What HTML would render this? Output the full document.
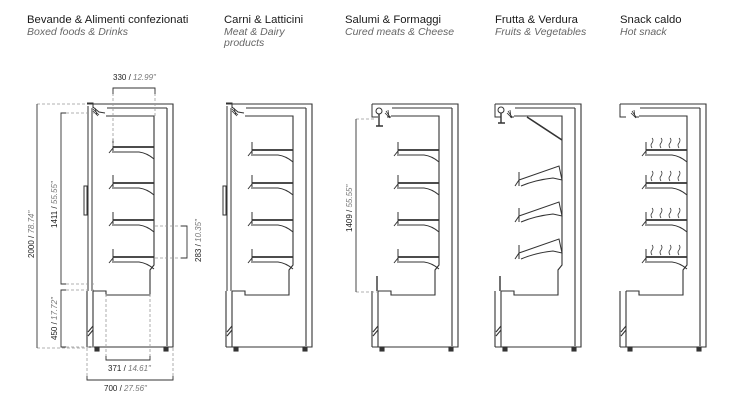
<!DOCTYPE html>
<html><head><meta charset="utf-8"><style>
html,body{margin:0;padding:0;background:#fff;}
svg{display:block}
.t{font-family:"Liberation Sans",sans-serif;font-size:11.3px;fill:#1a1a1a}
.s{font-family:"Liberation Sans",sans-serif;font-size:10.5px;fill:#666;font-style:italic}
.d{font-family:"Liberation Sans",sans-serif;font-size:8px;fill:#222}
.di{font-style:italic;fill:#777}
</style></head><body>
<svg width="737" height="415" viewBox="0 0 737 415" xmlns="http://www.w3.org/2000/svg">
<defs>
<g id="body" fill="none" stroke="#333" stroke-width="1.1">
  <path d="M0 0 H86 V243 H0"/>
  <path d="M80 4 V242"/>
  <path d="M20 4 H80"/>
  <path d="M6 187 H19 V191 H63 V166 L67 161 V12 H19"/>
  <path d="M6 187 V243 M0 187 V243"/>
  <path d="M1 228 L6 222 M1 232 L6 226"/>
  <rect x="8" y="243" width="4" height="4" fill="#333"/>
  <rect x="77" y="243" width="4" height="4" fill="#333"/>
</g>
<g id="shelf" fill="none" stroke="#333">
  <path d="M26 0 H67" stroke-width="1.8"/>
  <path d="M27 5 H52 Q60 6 67 12"/>
  <path d="M26 -8 V6 M22 6 L26 1"/>
</g>
<g id="glass" fill="none" stroke="#333">
  <path d="M0 -1 H6 V4 M1 2 V187 M5 4 V187"/>
  <rect x="-3" y="82" width="3" height="29" fill="#fff"/>
  <path d="M6 5 L12 11 M8 4 L10 11 M6 7 L11 12" stroke-width=".8"/>
</g>
<g id="slshelf" fill="none" stroke="#333">
  <path d="M24 8 L64 -6 L67 8 L58 6 Q40 8 26 14" />
  <path d="M24 0 V14 M20 14 L24 8"/>
</g>
<g id="steam" fill="none" stroke="#333" stroke-width=".8">
  <path d="M32 -2 q-2 -3 0 -5 q2 -3 0 -5 M41 -2 q-2 -3 0 -5 q2 -3 0 -5 M50 -2 q-2 -3 0 -5 q2 -3 0 -5 M59 -2 q-2 -3 0 -5 q2 -3 0 -5"/>
</g>
</defs>

<text class="t" x="27" y="23">Bevande &amp; Alimenti confezionati</text>
<text class="s" x="27" y="35">Boxed foods &amp; Drinks</text>
<text class="t" x="224" y="23">Carni &amp; Latticini</text>
<text class="s" x="224" y="35">Meat &amp; Dairy</text>
<text class="s" x="224" y="46">products</text>
<text class="t" x="345" y="23">Salumi &amp; Formaggi</text>
<text class="s" x="345" y="35">Cured meats &amp; Cheese</text>
<text class="t" x="495" y="23">Frutta &amp; Verdura</text>
<text class="s" x="495" y="35">Fruits &amp; Vegetables</text>
<text class="t" x="620" y="23">Snack caldo</text>
<text class="s" x="620" y="35">Hot snack</text>

<g transform="translate(87,104)">
  <use href="#body"/><use href="#glass"/>
  <path d="M6 3 L12 8 L18 9" fill="none" stroke="#333"/>
  <use href="#shelf" y="43"/><use href="#shelf" y="79"/><use href="#shelf" y="116"/><use href="#shelf" y="153"/>
</g>
<g transform="translate(226,104)">
  <use href="#body"/><use href="#glass"/>
  <path d="M6 3 L12 8 L18 9" fill="none" stroke="#333"/>
  <use href="#shelf" y="46"/><use href="#shelf" y="79"/><use href="#shelf" y="116"/><use href="#shelf" y="153"/>
</g>
<g transform="translate(372,104)">
  <use href="#body"/>
  <path d="M0 0 V13 H6 M15 13 H19" fill="none" stroke="#333"/>
  <circle cx="7" cy="7" r="3" fill="none" stroke="#333"/>
  <path d="M7 10 V22 M4 22 H11" stroke="#333" stroke-width="1.4"/>
  <path d="M14 7 L18 13 M16 6 L17 13 M13 9 L18 14" stroke="#333" stroke-width=".8"/>
  <path d="M5 187 V172" stroke="#333" stroke-width="1.4"/>
  <use href="#shelf" y="46"/><use href="#shelf" y="79"/><use href="#shelf" y="116"/><use href="#shelf" y="153"/>
</g>
<g transform="translate(495,104)">
  <use href="#body"/>
  <path d="M0 0 V13 H6 M15 13 H19" fill="none" stroke="#333"/>
  <circle cx="6" cy="6" r="3" fill="none" stroke="#333"/>
  <path d="M6 9 V19 M3 19 H10" stroke="#333" stroke-width="1.4"/>
  <path d="M13 7 L17 13 M15 6 L16 13 M12 9 L17 14" stroke="#333" stroke-width=".8"/>
  <path d="M32 13 L67 36" stroke="#333" stroke-width="1.6"/>
  <path d="M5 187 V172" stroke="#333" stroke-width="1.4"/>
  <use href="#slshelf" y="68"/><use href="#slshelf" y="104"/><use href="#slshelf" y="141"/>
</g>
<g transform="translate(620,104)">
  <use href="#body"/>
  <path d="M0 0 V13 H6 M15 13 H19" fill="none" stroke="#333"/>
  <path d="M12 7 L16 13 M14 6 L15 13 M11 9 L16 14" stroke="#333" stroke-width=".8"/>
  <use href="#shelf" y="46"/><use href="#shelf" y="79"/><use href="#shelf" y="116"/><use href="#shelf" y="153"/>
  <use href="#steam" y="46"/><use href="#steam" y="79"/><use href="#steam" y="116"/><use href="#steam" y="153"/>
</g>

<g fill="none" stroke="#999" stroke-width=".8" stroke-dasharray="3,2">
  <path d="M37 104 H87 M37 348 H87"/>
  <path d="M66 113 H94 M66 284 H94 M66 290 H94 M66 347 H94"/>
  <path d="M113 88 V148 M155 88 V116"/>
  <path d="M155 226 H187 M155 258 H187"/>
  <path d="M106 294 V360 M150 294 V360"/>
  <path d="M87 348 V380 M173 348 V380"/>
  <path d="M356 119 H376 M356 292 H377" />
</g>
<g fill="none" stroke="#333" stroke-width=".9">
  <path d="M37 104 V348"/>
  <path d="M66 113 H61 V284 H66 M66 290 H61 V347 H66"/>
  <path d="M113 94 V88 H155 V94"/>
  <path d="M181 226 H187 V258 H181"/>
  <path d="M106 356 V360 H150 V356"/>
  <path d="M87 376 V380 H173 V376"/>
  <path d="M356 119 V292"/>
</g>
<text class="d" x="113" y="80">330 / <tspan class="di">12.99"</tspan></text>
<text class="d" x="108" y="371">371 / <tspan class="di">14.61"</tspan></text>
<text class="d" x="104" y="391">700 / <tspan class="di">27.56"</tspan></text>
<text class="d" transform="translate(34,258) rotate(-90)">2000 / <tspan class="di">78.74"</tspan></text>
<text class="d" transform="translate(57,228) rotate(-90)">1411 / <tspan class="di">55.55"</tspan></text>
<text class="d" transform="translate(57,340) rotate(-90)">450 / <tspan class="di">17.72"</tspan></text>
<text class="d" transform="translate(201,262) rotate(-90)">283 / <tspan class="di">10.35"</tspan></text>
<text class="d" transform="translate(352,232) rotate(-90)">1409 / <tspan class="di">55.55"</tspan></text>
</svg>
</body></html>
